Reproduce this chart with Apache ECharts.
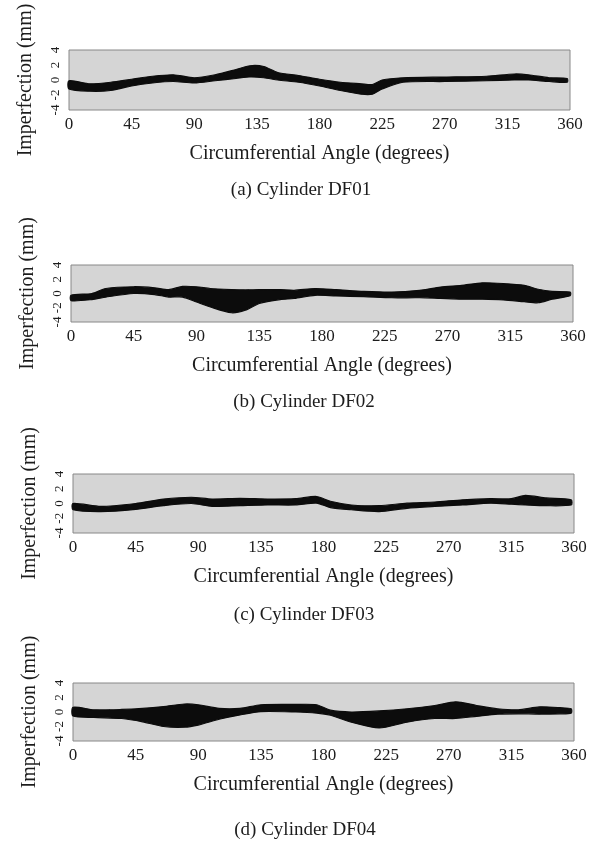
<!DOCTYPE html>
<html>
<head>
<meta charset="utf-8">
<script src="https://cdn.jsdelivr.net/npm/echarts@6/dist/echarts.min.js"></script>
<style>
  html, body { margin: 0; padding: 0; background: #fff; }
  #chart { width: 591px; height: 842px; }
</style>
</head>
<body>
<div id="chart"></div>
<script>
// x ticks (degrees) and y ticks (mm)
const angleTicks = [0, 45, 90, 135, 180, 225, 270, 315, 360];
const mmTicks = [-4, -2, 0, 2, 4];

const angleA = [0, 15, 30, 45, 60, 75, 90, 105, 120, 130, 140, 150, 165, 180, 195, 210, 218, 225, 240, 270, 300, 320, 330, 345, 358];
const lowA  = [-1.2, -1.5, -1.4, -0.8, -0.4, -0.2, -0.4, -0.1, 0.2, 0.4, 0.3, 0.0, -0.3, -0.8, -1.4, -1.9, -1.9, -1.2, -0.3, -0.2, -0.1, 0.0, 0.0, -0.2, -0.3];
const highA = [-0.1, -0.5, -0.3, 0.1, 0.5, 0.7, 0.3, 0.7, 1.4, 1.9, 1.8, 1.0, 0.6, 0.1, -0.3, -0.5, -0.6, 0.0, 0.3, 0.4, 0.5, 0.8, 0.7, 0.3, 0.2];

const angleB = [0, 15, 25, 45, 60, 70, 80, 90, 100, 115, 125, 135, 150, 160, 175, 190, 210, 230, 250, 265, 280, 295, 310, 325, 335, 345, 358];
const lowB  = [-1.0, -0.85, -0.5, 0, -0.15, -0.5, -0.5, -1.2, -1.9, -2.7, -2.35, -1.4, -0.85, -0.7, -0.25, -0.35, -0.45, -0.6, -0.6, -0.7, -0.8, -0.8, -0.9, -1.15, -1.3, -0.8, -0.3];
const highB = [-0.25, 0, 0.7, 0.95, 0.8, 0.55, 1.0, 0.95, 0.7, 0.55, 0.5, 0.55, 0.55, 0.45, 0.7, 0.55, 0.3, 0.2, 0.45, 0.9, 1.15, 1.5, 1.4, 1.15, 0.6, 0.3, 0.2];

const angleC = [0, 20, 45, 65, 85, 100, 120, 140, 160, 175, 185, 200, 220, 240, 260, 280, 300, 315, 325, 340, 358];
const lowC  = [-0.85, -1.1, -0.8, -0.3, 0, -0.4, -0.3, -0.2, -0.2, 0.05, -0.55, -0.85, -1.1, -0.65, -0.4, -0.2, 0.05, -0.1, -0.2, -0.3, -0.2];
const highC = [0, -0.4, 0, 0.6, 0.85, 0.6, 0.7, 0.6, 0.65, 0.95, 0.3, -0.2, -0.3, 0.05, 0.2, 0.5, 0.65, 0.65, 1.1, 0.75, 0.5];

const angleD = [0, 15, 35, 50, 65, 80, 90, 105, 120, 135, 160, 175, 185, 200, 220, 240, 260, 275, 290, 305, 320, 335, 350, 358];
const lowD  = [-0.55, -0.75, -0.9, -1.35, -2.0, -2.1, -1.8, -1.0, -0.4, 0.05, 0, -0.15, -0.45, -1.4, -2.2, -1.4, -0.9, -0.9, -0.6, -0.3, -0.25, -0.3, -0.25, -0.15];
const highD = [0.65, 0.3, 0.35, 0.5, 0.75, 1.1, 1.0, 0.5, 0.5, 1.0, 1.05, 1.0, 0.25, 0, 0.15, 0.45, 0.9, 1.4, 0.9, 0.45, 0.3, 0.7, 0.6, 0.45];

const captions = ['(a) Cylinder DF01', '(b) Cylinder DF02', '(c) Cylinder DF03', '(d) Cylinder DF04'];

const panels = [
  { angle: angleA, low: lowA, high: highA },
  { angle: angleB, low: lowB, high: highB },
  { angle: angleC, low: lowC, high: highC },
  { angle: angleD, low: lowD, high: highD }
];

// layout of the four boxes
const boxes = [
  { left: 69, right: 21, top: 50, height: 60, capY: 190, capX: 301 },
  { left: 71, right: 18, top: 265, height: 57, capY: 402, capX: 304 },
  { left: 73, right: 17, top: 474, height: 59, capY: 615, capX: 304 },
  { left: 73, right: 17, top: 683, height: 58, capY: 830, capX: 305 }
];

const serif = 'Liberation Serif';
const ink = '#1c1c1c';

const chart = echarts.init(document.getElementById('chart'));

const grid = [], xAxis = [], yAxis = [], series = [], graphic = [];

// draws the dark band between low and high envelope as one filled shape
function bandItem(params, api) {
  if (params.dataIndex !== 0) return null;
  const n = params.dataInsideLength;
  const top = [], bottom = [];
  for (let k = 0; k < n; k++) {
    const a = api.value(0, k);
    top.push(api.coord([a, api.value(2, k)]));
    bottom.unshift(api.coord([a, api.value(1, k)]));
  }
  return {
    type: 'polygon',
    shape: { points: top.concat(bottom), smooth: 0.25 },
    style: { fill: '#0c0c0c', stroke: '#0c0c0c', lineWidth: 1.2 }
  };
}

boxes.forEach(function (b, i) {
  grid.push({
    left: b.left, right: b.right, top: b.top, height: b.height,
    show: true, backgroundColor: '#d5d5d5', borderColor: '#888888', borderWidth: 1
  });
  xAxis.push({
    type: 'value', gridIndex: i, min: angleTicks[0], max: angleTicks[angleTicks.length - 1], interval: 45,
    name: 'Circumferential Angle (degrees)', nameLocation: 'middle', nameGap: 34,
    nameTextStyle: { fontFamily: serif, fontSize: 20, color: ink },
    axisLine: { show: false }, axisTick: { show: false }, splitLine: { show: false },
    axisLabel: { fontFamily: serif, fontSize: 17, color: ink, margin: 6 }
  });
  yAxis.push({
    type: 'value', gridIndex: i, min: mmTicks[0], max: mmTicks[mmTicks.length - 1], interval: 2,
    name: 'Imperfection (mm)', nameLocation: 'middle', nameGap: 33, nameRotate: 90,
    nameTextStyle: { fontFamily: serif, fontSize: 20, color: ink },
    axisLine: { show: false }, axisTick: { show: false }, splitLine: { show: false },
    axisLabel: { fontFamily: serif, fontSize: 13, color: ink, rotate: 90, margin: 7 }
  });

  const p = panels[i];
  series.push({
    type: 'custom', xAxisIndex: i, yAxisIndex: i, silent: true,
    data: p.angle.map(function (a, k) { return [a, p.low[k], p.high[k]]; }),
    encode: { x: 0, y: [1, 2] },
    renderItem: bandItem
  });

  graphic.push({
    type: 'text', x: b.capX, y: b.capY,
    style: {
      text: captions[i], fontFamily: serif, fontSize: 19, fill: ink,
      textAlign: 'center', textVerticalAlign: 'middle'
    }
  });
});

chart.setOption({
  backgroundColor: '#ffffff',
  animation: false,
  grid: grid,
  xAxis: xAxis,
  yAxis: yAxis,
  series: series,
  graphic: graphic
});
</script>
</body>
</html>
